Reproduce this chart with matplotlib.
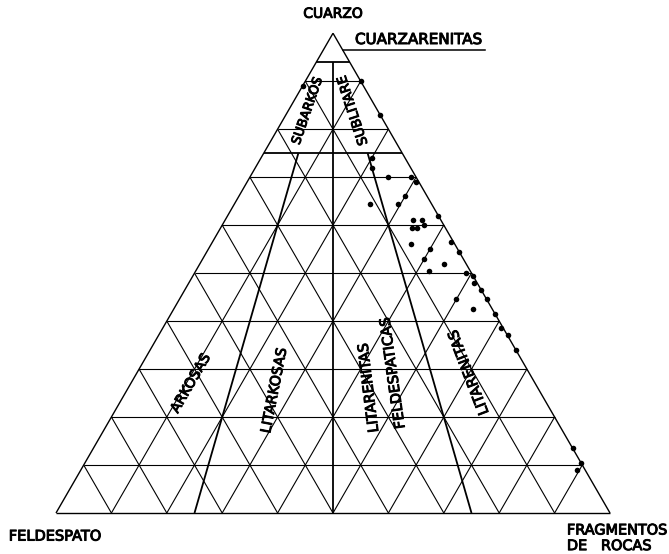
import numpy as np
import matplotlib
matplotlib.use("Agg")
import matplotlib.pyplot as plt
import matplotlib.patheffects as pe

# Composición modal de las muestras (%): cuarzo, feldespato, fragmentos de roca
cuarzo = [89, 90, 83, 74, 72, 70, 70, 69, 66, 64.5, 64.5, 62, 61, 61, 59.5,
          59.5, 60, 56, 55, 53, 52, 50.5, 56.5, 54.5, 50, 49.5, 48, 46.5,
          44.5, 44.5, 42.5, 41.5, 38.5, 37, 34, 13.5, 10.5, 9]
feldespato = [11, 0, 0, 6, 7, 5, 1, 0.5, 4, 6, 11, 0, 5, 3.5, 6,
              5, 3.5, 8, 5, 7, 4, 7.5, 0.5, 0, 1, 0, 0.5, 0,
              0, 5.5, 3.5, 0, 0.5, 0, 0, 0, 0, 1.5]
fragmentos = [0, 10, 17, 20, 21, 25, 29, 30.5, 30, 29.5, 24.5, 38, 34, 35.5, 34.5,
              35.5, 36.5, 36, 40, 40, 44, 42, 43, 45.5, 49, 50.5, 51.5, 53.5,
              55.5, 50, 54, 58.5, 61, 63, 66, 86.5, 89.5, 89.5]

# Límites de la clasificación (fracciones)
q_cuarzarenita = 0.94
q_sub = 0.75
razones_fr = [0.75, 0.25]   # F/(F+R) de las líneas que parten de Q = 75 %

H = np.sqrt(3) / 2


def tern(q, f, r):
    q, f, r = np.asarray(q, float), np.asarray(f, float), np.asarray(r, float)
    s = q + f + r
    q, r = q / s, r / s
    return r + q / 2, q * H


def segment(ax, a, b, **kw):
    x0, y0 = tern(*a)
    x1, y1 = tern(*b)
    ax.plot([x0, x1], [y0, y1], color="black", solid_capstyle="butt", **kw)


W, Hpx = 669, 554
fig = plt.figure(figsize=(W / 100, Hpx / 100), dpi=100)
ax = fig.add_axes([0, 0, 1, 1])
scale = 554.0
ax.set_xlim(-56 / scale, (W - 56) / scale)
ax.set_ylim((513 - Hpx) / scale, 513 / scale)
ax.set_aspect("equal")
ax.axis("off")

# Red triangular cada 10 %
grid_kw = dict(lw=0.8)
for k in range(1, 10):
    v = k / 10
    segment(ax, (v, 1 - v, 0), (v, 0, 1 - v), **grid_kw)
    segment(ax, (1 - v, 0, v), (0, 1 - v, v), **grid_kw)
    segment(ax, (1 - v, v, 0), (0, v, 1 - v), **grid_kw)

# Contorno
segment(ax, (0, 1, 0), (0, 0, 1), lw=1.0)
segment(ax, (0, 1, 0), (1, 0, 0), lw=1.0)
segment(ax, (0, 0, 1), (1, 0, 0), lw=1.0)

# Campos de clasificación
cls_kw = dict(lw=1.3)
segment(ax, (q_cuarzarenita, 1 - q_cuarzarenita, 0),
        (q_cuarzarenita, 0, 1 - q_cuarzarenita), **cls_kw)
segment(ax, (q_sub, 1 - q_sub, 0), (q_sub, 0, 1 - q_sub), **cls_kw)
segment(ax, (q_cuarzarenita, (1 - q_cuarzarenita) / 2, (1 - q_cuarzarenita) / 2),
        (0, 0.5, 0.5), **cls_kw)
for p in razones_fr:
    segment(ax, (q_sub, (1 - q_sub) * p, (1 - q_sub) * (1 - p)),
            (0, p, 1 - p), **cls_kw)

# Muestras
px, py = tern(cuarzo, feldespato, fragmentos)
ax.plot(px, py, "o", color="black", ms=4.0, mec="none", zorder=5)

# Rotulación con trazo algo grueso
bold = [pe.withStroke(linewidth=0.7, foreground="black")]
font = dict(family="DejaVu Sans", color="black", path_effects=bold)

# Nombres de los campos (posición en composición Q, F, R y giro)
campos = [
    ("SUBARKOS", (0.8375, 0.127, 0.035), 71, 9.3),
    ("SUBLITARE", (0.8396, 0.044, 0.117), 108, 9.6),
    ("ARKOSAS", (0.27, 0.622, 0.108), 60, 10.0),
    ("LITARKOSAS", (0.2546, 0.479, 0.267), 79, 10.2),
    ("LITARENITAS", (0.2604, 0.305, 0.435), 97, 10.3),
    ("FELDESPATICAS", (0.291, 0.246, 0.463), 98, 10.3),
    ("LITARENITAS", (0.2927, 0.108, 0.5995), 111, 10.3),
]
for txt, (q, f, r), rot, fs in campos:
    x, y = tern(q, f, r)
    ax.text(x, y, txt, rotation=rot, rotation_mode="anchor", ha="center",
            va="center", fontsize=fs, **font)

# Polos
ax.annotate("CUARZO", xy=tern(1, 0, 0), xytext=(0, 14), textcoords="offset points",
            ha="center", va="center", fontsize=10, **font)
ax.annotate("FELDESPATO", xy=tern(0, 1, 0), xytext=(-0.7, -16.6),
            textcoords="offset points", ha="center", va="center", fontsize=10.5, **font)
ax.annotate("FRAGMENTOS\nDE   ROCAS", xy=tern(0, 0, 1), xytext=(-31, -18.2),
            textcoords="offset points", ha="left", va="center", fontsize=10.4,
            linespacing=1.15, **font)

# Rótulo de cuarzarenitas con su línea
q_lbl = 0.965
x0, y0 = tern(q_lbl, 0, 1 - q_lbl)
ax.plot([x0, (485 - 56) / scale], [y0, y0], color="black", lw=1.1)
ax.text((355 - 56) / scale, y0 + 3 / scale, "CUARZARENITAS", ha="left", va="bottom",
        fontsize=10.9, **font)

fig.savefig("out.png", dpi=100)
